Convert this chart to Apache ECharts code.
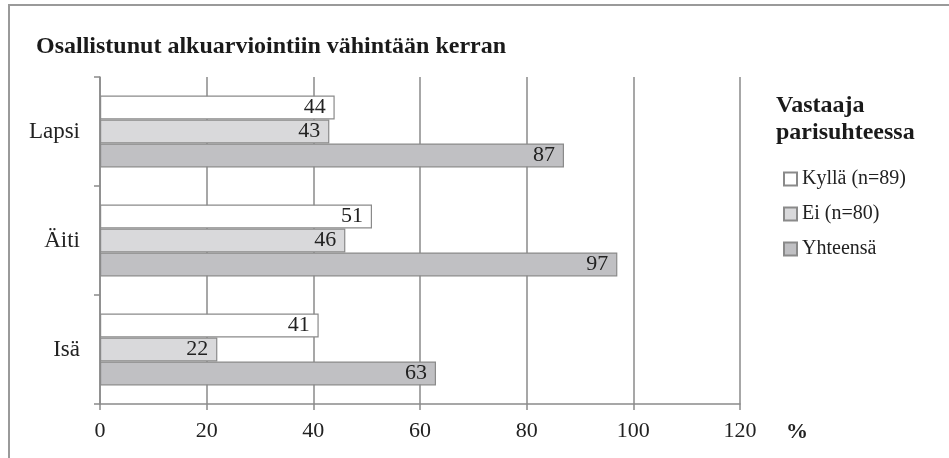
<!DOCTYPE html>
<html>
<head>
<meta charset="utf-8">
<script src="https://cdn.jsdelivr.net/npm/echarts@6/dist/echarts.min.js"></script>
<style>
  html, body { margin: 0; padding: 0; background: #fff; }
  #chart { width: 949px; height: 458px; }
</style>
</head>
<body>
<div id="chart"></div>
<script>
// kategoriat ylhäältä alas
const categories = ['Lapsi', 'Äiti', 'Isä']
const seriesNames = ['Kyllä (n=89)', 'Ei (n=80)', 'Yhteensä']
const kylla = [44, 51, 41]
const ei = [43, 46, 22]
const yhteensa = [87, 97, 63]
const xTicks = [0, 20, 40, 60, 80, 100, 120]

const font = '"Liberation Serif", "DejaVu Serif", serif'
const colors = ['#ffffff', '#d9d9db', '#c0c0c3']
const values = [kylla, ei, yhteensa]

const chart = echarts.init(document.getElementById('chart'))

const series = seriesNames.map(function (name, i) {
  return {
    name: name,
    type: 'bar',
    data: values[i],
    barGap: '0%',
    barCategoryGap: '34%',
    itemStyle: { color: colors[i], borderColor: '#8a8a8a', borderWidth: 1.2 },
    label: {
      show: true,
      position: 'insideRight',
      distance: 9,
      fontFamily: font,
      fontSize: 22,
      color: '#222'
    },
    emphasis: { disabled: true }
  }
})

const option = {
  animation: false,
  color: colors,
  title: [
    {
      text: 'Osallistunut alkuarviointiin vähintään kerran',
      left: 31,
      top: 30,
      textStyle: { fontFamily: font, fontSize: 24, fontWeight: 'bold', color: '#1a1a1a' }
    },
    {
      text: 'Vastaaja\nparisuhteessa',
      left: 771,
      top: 87,
      textStyle: { fontFamily: font, fontSize: 24, fontWeight: 'bold', color: '#1a1a1a', lineHeight: 27 }
    }
  ],
  legend: {
    orient: 'vertical',
    left: 778,
    top: 162,
    itemWidth: 13,
    itemHeight: 13,
    itemGap: 11,
    icon: 'rect',
    data: seriesNames,
    textStyle: { fontFamily: font, fontSize: 20, color: '#222', lineHeight: 24 },
    selectedMode: false
  },
  grid: { left: 100, right: 209, top: 77, bottom: 54, containLabel: false },
  xAxis: {
    type: 'value',
    min: xTicks[0],
    max: xTicks[xTicks.length - 1],
    interval: 20,
    axisLine: { show: true, lineStyle: { color: '#8a8a8a', width: 1.5 } },
    axisTick: { show: true, length: 6, lineStyle: { color: '#8a8a8a', width: 1.5 } },
    splitLine: { show: true, lineStyle: { color: '#8a8a8a', width: 1.5 } },
    axisLabel: { fontFamily: font, fontSize: 22, color: '#222', margin: 16 }
  },
  yAxis: {
    type: 'category',
    data: categories,
    inverse: true,
    axisLine: { show: true, lineStyle: { color: '#8a8a8a', width: 1.5 } },
    axisTick: { show: true, length: 6, lineStyle: { color: '#8a8a8a', width: 1.5 } },
    axisLabel: { fontFamily: font, fontSize: 23, color: '#222', margin: 20 }
  },
  graphic: [
    {
      type: 'rect',
      silent: true,
      shape: { x: 9, y: 5, width: 960, height: 470 },
      style: { fill: null, stroke: '#9a9a9a', lineWidth: 2 }
    },
    {
      type: 'text',
      left: 786,
      top: 421,
      style: { text: '%', fontFamily: font, fontSize: 22, fontWeight: 'bold', fill: '#222' }
    }
  ],
  series: series
}

chart.setOption(option)
</script>
</body>
</html>
